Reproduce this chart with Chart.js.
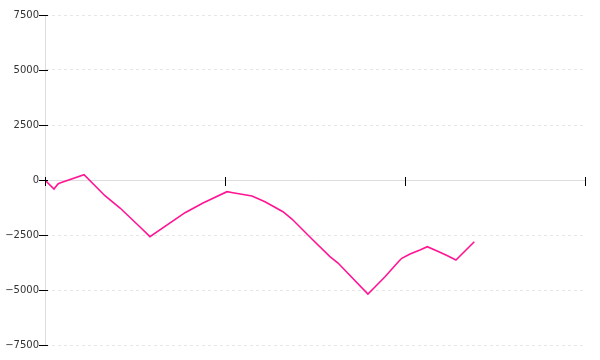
<!DOCTYPE html>
<html lang="en">
<head>
<meta charset="UTF-8">
<title>Line</title>
<script src="https://cdn.jsdelivr.net/npm/chart.js"></script>
<style>
    html, body { margin: 0; padding: 0; background: #ffffff; }
    #wrap { width: 600px; height: 360px; }
</style>
</head>
<body>
<div id="wrap"><canvas id="chart"></canvas></div>
<script>
// data
const xValues = [0, 0.05, 0.072, 0.083, 0.217, 0.333, 0.417, 0.528, 0.583, 0.778, 0.878, 1.011, 1.044, 1.15,
    1.222, 1.322, 1.372, 1.483, 1.583, 1.628, 1.794, 1.833, 1.889, 1.967, 1.982, 2.028, 2.083, 2.124,
    2.194, 2.239, 2.283, 2.385];
const yValues = [0, -410, -180, -136, 240, -714, -1273, -2136, -2577, -1486, -1045, -532, -577, -727,
    -986, -1441, -1773, -2682, -3486, -3773, -5182, -4864, -4395, -3682, -3559, -3364, -3182, -3032,
    -3286, -3455, -3636, -2805];
const xTicks = [0, 1, 2, 3];
const yTicks = [-7500, -5000, -2500, 0, 2500, 5000, 7500];

const points = xValues.map((x, i) => ({ x: x, y: yValues[i] }));

// short black tick marks that cross the axis lines
const crossTicks = {
    id: 'crossTicks',
    afterDraw(chart) {
        const ctx = chart.ctx;
        const xs = chart.scales.x, ys = chart.scales.y;
        const y0 = ys.getPixelForValue(0);
        ctx.save();
        ctx.strokeStyle = '#000';
        ctx.lineWidth = 1;
        ctx.beginPath();
        xTicks.forEach(v => {
            const px = Math.round(xs.getPixelForValue(v)) + 0.5;
            ctx.moveTo(px, y0 - 3);
            ctx.lineTo(px, y0 + 6);
        });
        yTicks.forEach(v => {
            const py = Math.round(ys.getPixelForValue(v)) + 0.5;
            ctx.moveTo(ys.right - 6, py);
            ctx.lineTo(ys.right + 3, py);
        });
        ctx.stroke();
        ctx.restore();
    }
};

new Chart(document.getElementById('chart').getContext('2d'), {
    type: 'line',
    data: {
        datasets: [{
            data: points,
            borderColor: '#ff1493',
            backgroundColor: '#ff1493',
            borderWidth: 1.6,
            pointRadius: 0,
            tension: 0,
            fill: false
        }]
    },
    options: {
        responsive: true,
        maintainAspectRatio: false,
        animation: false,
        layout: { padding: { left: 0, right: 15, top: 15, bottom: 15 } },
        plugins: { legend: { display: false }, tooltip: { enabled: false } },
        scales: {
            x: {
                type: 'linear',
                position: { y: 0 },
                min: 0,
                max: 3,
                afterBuildTicks: s => { s.ticks = xTicks.map(v => ({ value: v })); },
                ticks: { display: false },
                grid: { display: false },
                border: { display: true, color: '#dddddd', width: 1 }
            },
            y: {
                min: -7500,
                max: 7500,
                afterBuildTicks: s => { s.ticks = yTicks.map(v => ({ value: v })); },
                afterFit: s => { s.width = 45; },
                ticks: {
                    padding: 0,
                    color: '#333',
                    font: { family: 'DejaVu Sans', size: 10 },
                    callback: v => String(v).replace('-', '\u2212')
                },
                grid: { color: '#e6e6e6', tickColor: 'rgba(0,0,0,0)', tickLength: 6 },
                border: { display: true, color: '#dddddd', dash: [3, 3] }
            }
        }
    },
    plugins: [crossTicks]
});
</script>
</body>
</html>
